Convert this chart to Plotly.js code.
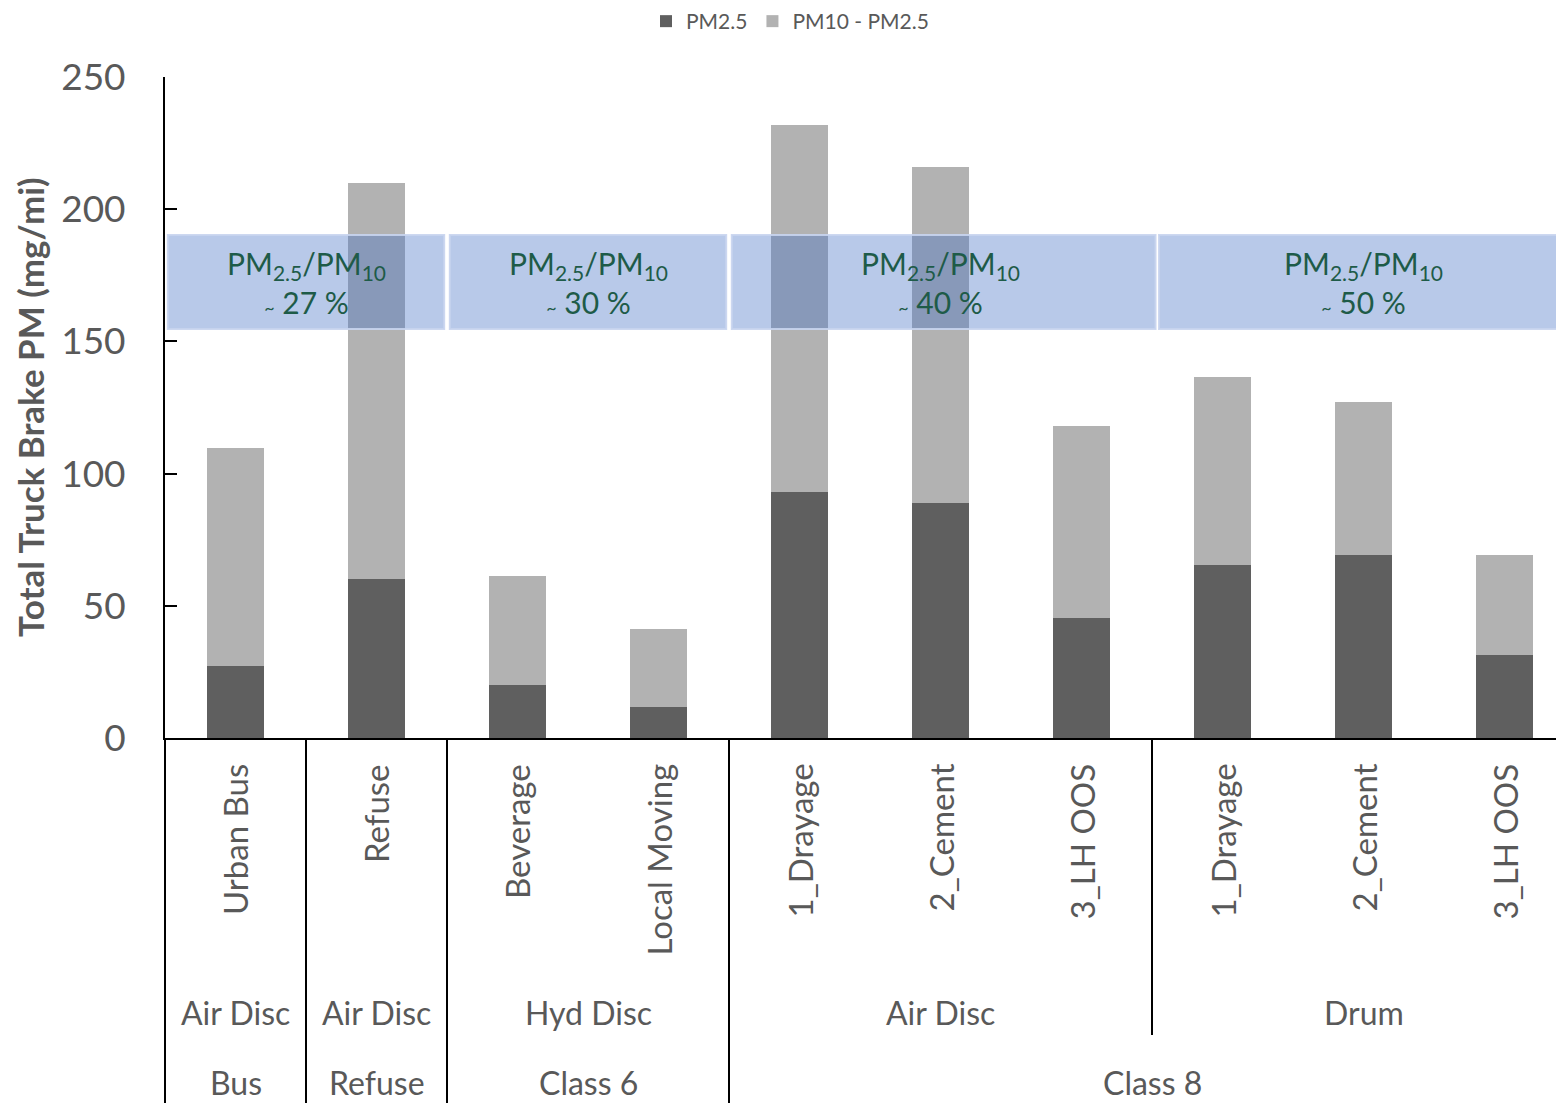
<!DOCTYPE html>
<html>
<head>
<meta charset="utf-8">
<script src="https://cdn.plot.ly/plotly-3.0.1.min.js"></script>
<style>html,body{margin:0;padding:0;background:#fff;}#chart{width:1556px;height:1103px;}</style>
</head>
<body>
<div id="chart"></div>
<script>
// ---- data ----
const categories = ["Urban Bus", "Refuse", "Beverage", "Local Moving", "1_Drayage", "2_Cement", "3_LH OOS", "1_Drayage", "2_Cement", "3_LH OOS"];
const pm25 = [27.2, 60.1, 20.0, 11.7, 93.0, 88.9, 45.4, 65.4, 69.2, 31.4];
const pm10MinusPm25 = [82.5, 149.8, 41.3, 29.5, 138.8, 127.1, 72.6, 71.1, 57.9, 37.8];
const brakeGroups = ["Air Disc", "Air Disc", "Hyd Disc", "Air Disc", "Drum"];
const brakeGroupSpans = [[0, 0], [1, 1], [2, 3], [4, 6], [7, 9]];
const classGroups = ["Bus", "Refuse", "Class 6", "Class 8"];
const classGroupSpans = [[0, 0], [1, 1], [2, 3], [4, 9]];
const ratioLabels = ["27 %", "30 %", "40 %", "50 %"];
const ratioSpans = [[0, 1], [2, 3], [4, 6], [7, 9]];
const ratioBand = [154.7, 190.2];

// ---- layout constants ----
const W = 1556, H = 1103;
const mL = 165, mT = 77, mB = H - 738, mR = 0;
const plotW = W - mL - mR, plotH = H - mT - mB;
const xr = [-0.5, -0.5 + plotW / 141];
const font = "Lato, 'Open Sans', sans-serif";
const gray = "#595959";
const toPaperX = v => (v - xr[0]) / (xr[1] - xr[0]);
const pyPix = py => (738 - py) / plotH;
const boxInsets = [[0.02, -0.02], [0.02, -0.02], [0.02, 0.025], [0.05, 0.2]];

const xs = categories.map((_, i) => i);

const traces = [
  {type: "bar", name: "PM2.5", x: xs, y: pm25, marker: {color: "#5f5f5f"}},
  {type: "bar", name: "PM10 - PM2.5", x: xs, y: pm10MinusPm25, marker: {color: "#b2b2b2"}}
];

const annotations = [];
const shapes = [];

// category labels (rotated)
categories.forEach((c, i) => {
  annotations.push({xref: "x", yref: "paper", x: i, y: pyPix(762), text: c, textangle: -90,
    showarrow: false, xanchor: "center", yanchor: "top", font: {family: font, size: 33, color: gray}});
});
brakeGroups.forEach((g, k) => {
  const [a, b] = brakeGroupSpans[k];
  annotations.push({xref: "x", yref: "paper", x: (a + b) / 2, y: pyPix(1012), text: g,
    showarrow: false, xanchor: "center", yanchor: "middle", font: {family: font, size: 32, color: gray}});
});
classGroups.forEach((g, k) => {
  const [a, b] = classGroupSpans[k];
  annotations.push({xref: "x", yref: "paper", x: (a + b) / 2, y: pyPix(1082), text: g,
    showarrow: false, xanchor: "center", yanchor: "middle", font: {family: font, size: 32, color: gray}});
});

// separators
[-0.5, 0.5, 1.5, 3.5].forEach(v => {
  shapes.push({type: "line", xref: "paper", yref: "paper", x0: toPaperX(v), x1: toPaperX(v), y0: 0, y1: pyPix(H + 5),
    line: {color: "#000", width: 2}});
});
shapes.push({type: "line", xref: "paper", yref: "paper", x0: toPaperX(6.5), x1: toPaperX(6.5), y0: 0, y1: pyPix(1035),
  line: {color: "#000", width: 2}});

// ratio boxes
ratioSpans.forEach(([a, b], k) => {
  shapes.push({type: "rect", xref: "x", yref: "y", layer: "above",
    x0: a - 0.5 + boxInsets[k][0], x1: b + 0.5 + boxInsets[k][1], y0: ratioBand[0], y1: ratioBand[1],
    fillcolor: "rgba(68,114,196,0.38)", line: {color: "rgba(200,212,238,0.9)", width: 2}});
  annotations.push({xref: "x", yref: "y", x: (a + b) / 2, y: (ratioBand[0] + ratioBand[1]) / 2,
    text: "PM<sub>2.5</sub>/PM<sub>10</sub><br><span style='font-size:18px'>~</span> " + ratioLabels[k],
    showarrow: false, xanchor: "center", yanchor: "middle",
    font: {family: font, size: 30, color: "#1e5b48"}});
});

// y title
annotations.push({xref: "paper", yref: "paper", x: (30 - mL) / plotW, y: pyPix(407), text: "<b>Total Truck Brake PM (mg/mi)</b>",
  textangle: -90, showarrow: false, xanchor: "center", yanchor: "middle", font: {family: font, size: 35, color: gray}});

const layout = {
  width: W, height: H,
  margin: {l: mL, r: mR, t: mT, b: mB, pad: 0},
  paper_bgcolor: "#fff", plot_bgcolor: "#fff",
  barmode: "stack", bargap: 0.6,
  showlegend: true,
  legend: {orientation: "h", x: (790 - mL) / plotW, xanchor: "center", y: pyPix(1), yanchor: "top",
    font: {family: font, size: 21, color: gray}, traceorder: "normal"},
  xaxis: {range: xr, showticklabels: false, ticks: "", showgrid: false, zeroline: false,
    showline: true, linecolor: "#000", linewidth: 2, fixedrange: true},
  yaxis: {range: [0, 250], tickvals: [0, 50, 100, 150, 200, 250], ticks: "inside", ticklen: 12, tickcolor: "#000",
    tickwidth: 2, showline: true, linecolor: "#000", linewidth: 2, showgrid: false, zeroline: false,
    ticklabelstandoff: 30, tickfont: {family: font, size: 37, color: gray}},
  shapes: shapes,
  annotations: annotations
};

Plotly.newPlot("chart", traces, layout, {displayModeBar: false, staticPlot: true});
</script>
</body>
</html>
